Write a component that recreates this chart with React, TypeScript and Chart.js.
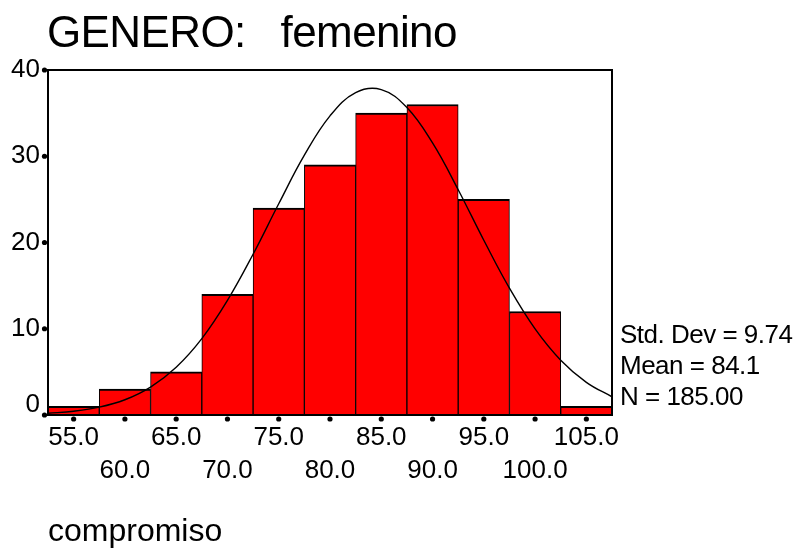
import React, { useEffect, useRef } from 'react';
import { Chart, registerables } from 'chart.js';

Chart.register(...registerables);

const FONT = '"Liberation Sans", Arial, Helvetica, sans-serif';

// Histogram bins (centres) and counts
const binCenters = [55, 60, 65, 70, 75, 80, 85, 90, 95, 100, 105];
const binCounts = [1, 3, 5, 14, 24, 29, 35, 36, 25, 12, 1];

// Fitted normal curve
const curveX = [52.5, 55, 57.5, 60, 62.5, 65, 67.5, 70, 72.5, 75, 77.5, 80, 82.5, 85, 87.5, 90, 92.5, 95, 97.5, 100, 102.5, 105, 107.5];
const curveY = [0.2, 0.44, 0.91, 1.77, 3.24, 5.54, 8.86, 13.29, 18.64, 24.49, 30.12, 34.68, 37.38, 37.73, 35.65, 31.54, 26.12, 20.26, 14.71, 9.99, 6.36, 3.79, 2.11];

// Axes
const xMin = 52.5;
const xMax = 107.5;
const xTickValues = [55, 60, 65, 70, 75, 80, 85, 90, 95, 100, 105];
const yTickValues = [0, 10, 20, 30, 40];

// Texts
const titleText = 'GENERO:   femenino';
const xAxisTitle = 'compromiso';
const statsLines = ['Std. Dev = 9.74', 'Mean = 84.1', 'N = 185.00'];

const decorPlugin = {
  id: 'spssDecor',
  afterDatasetsDraw(chart: any) {
    const { ctx, chartArea } = chart;
    const { left, top, right, bottom } = chartArea;
    ctx.save();
    ctx.strokeStyle = '#000';
    ctx.lineWidth = 2;
    ctx.strokeRect(left, top, right - left, bottom - top);
    ctx.fillStyle = '#000';
    const xs = chart.scales.x;
    const ys = chart.scales.y;
    xTickValues.forEach((v) => {
      const px = xs.getPixelForValue(v);
      ctx.beginPath();
      ctx.arc(px, bottom + 4, 2.6, 0, Math.PI * 2);
      ctx.fill();
    });
    yTickValues.forEach((v) => {
      const py = ys.getPixelForValue(v);
      ctx.beginPath();
      ctx.arc(left - 3.5, py, 2.6, 0, Math.PI * 2);
      ctx.fill();
    });
    // chart title
    ctx.textAlign = 'left';
    ctx.textBaseline = 'alphabetic';
    ctx.font = `44px ${FONT}`;
    (ctx as any).letterSpacing = '-0.6px';
    ctx.fillText(titleText, left - 1, top - 23);
    // statistics box
    ctx.font = `26px ${FONT}`;
    (ctx as any).letterSpacing = '-0.5px';
    statsLines.forEach((t, i) => {
      ctx.fillText(t, right + 8, bottom - 72 + i * 31);
    });
    ctx.restore();
  },
};

export default function App() {
  const canvasRef = useRef<HTMLCanvasElement | null>(null);

  useEffect(() => {
    const canvas = canvasRef.current;
    if (!canvas) return;
    const chart = new Chart(canvas, {
      type: 'bar',
      data: {
        datasets: [
          {
            type: 'line',
            data: curveX.map((x, i) => ({ x, y: curveY[i] })),
            borderColor: '#000',
            borderWidth: 1.4,
            pointRadius: 0,
            tension: 0.4,
            fill: false,
            order: 0,
          } as any,
          {
            type: 'bar',
            data: binCenters.map((x, i) => ({ x, y: binCounts[i] })),
            backgroundColor: '#ff0000',
            borderColor: '#000',
            borderWidth: { top: 2, left: 1, right: 1, bottom: 0 },
            borderSkipped: false,
            barPercentage: 1,
            categoryPercentage: 1,
            order: 1,
          } as any,
        ],
      },
      options: {
        responsive: false,
        animation: false,
        devicePixelRatio: 1,
        layout: { padding: { left: 0, right: 190, top: 70, bottom: 0 } },
        plugins: {
          legend: { display: false },
          tooltip: { enabled: false },
          title: { display: false },
        },
        scales: {
          x: {
            type: 'linear',
            min: xMin,
            max: xMax,
            offset: false,
            grid: { display: false, drawTicks: false },
            border: { display: false },
            afterBuildTicks: (scale: any) => {
              scale.ticks = xTickValues.map((v) => ({ value: v }));
            },
            afterFit: (scale: any) => {
              scale.height = 139;
            },
            ticks: {
              color: '#000',
              padding: 6.5,
              maxRotation: 0,
              autoSkip: false,
              font: { family: FONT, size: 26, lineHeight: 33 / 26 },
              callback: (value: any) => {
                const idx = xTickValues.indexOf(Number(value));
                const s = Number(value).toFixed(1);
                return idx % 2 === 0 ? s : ['', s];
              },
            },
            title: {
              display: true,
              text: xAxisTitle,
              align: 'start',
              color: '#000',
              font: { family: FONT, size: 32, lineHeight: 1.2 },
              padding: { top: 0, bottom: 3 },
            },
          },
          y: {
            type: 'linear',
            min: 0,
            max: 40,
            grid: { display: false, drawTicks: false },
            border: { display: false },
            afterBuildTicks: (scale: any) => {
              scale.ticks = yTickValues.map((v) => ({ value: v }));
            },
            afterFit: (scale: any) => {
              scale.width = 48;
            },
            ticks: {
              color: '#000',
              padding: 8,
              font: { family: FONT, size: 26, lineHeight: 0.8 },
              callback: (value: any) => (Number(value) === 0 ? ['0', ''] : String(value)),
            },
          },
        },
      } as any,
      plugins: [decorPlugin],
    });
    return () => chart.destroy();
  }, []);

  return (
    <div style={{ position: 'fixed', left: 0, top: 0, width: 802, height: 554, background: '#fff' }}>
      <canvas ref={canvasRef} width={802} height={554} style={{ display: 'block', width: 802, height: 554 }} />
    </div>
  );
}
